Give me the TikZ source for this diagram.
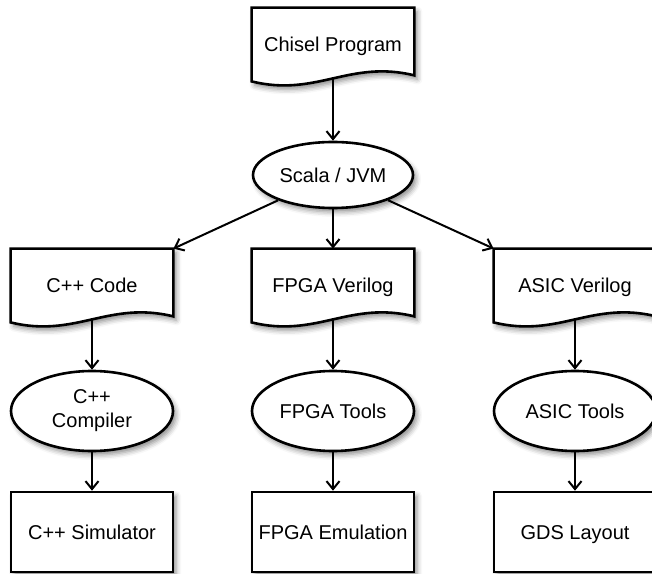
\documentclass[tikz,border=0pt]{standalone}
\usepackage{fontspec}
\setmainfont{Liberation Sans}
\usetikzlibrary{arrows.meta, shapes.geometric, positioning, calc, backgrounds, shadows.blur}

\tikzset{
  softshadow/.style={blur shadow={shadow xshift=1.5pt, shadow yshift=-2pt, shadow blur radius=2.5pt, shadow opacity=45}},
  doc/.style={minimum width=81pt, minimum height=35pt, inner sep=0pt, text height=10.5pt, text depth=1.5pt},
  docline/.style={draw, line width=1.3pt, fill=white, softshadow},
  stage/.style={ellipse, draw, line width=1.3pt, fill=white, softshadow, minimum width=81pt, minimum height=40pt, inner sep=0pt, align=center},
  result/.style={rectangle, draw, line width=1.3pt, fill=white, softshadow, minimum width=81pt, minimum height=40pt, inner sep=0pt, text height=8pt, text depth=1pt},
  flow/.style={-{Straight Barb[length=4pt,width=6.5pt]}, line width=1pt},
}

% sheet with a wavy lower edge round a doc node
\newcommand{\docoutline}[1]{%
  \draw[docline] (#1.north west) -- (#1.north east) -- ($(#1.south east)+(0,3)$)
    .. controls +(-65,16) and +(65,-16) .. ($(#1.south west)+(0,-3)$) -- cycle;}

\begin{document}
\begin{tikzpicture}[x=0.5pt, y=0.5pt, font=\fontsize{10}{12}\selectfont]
\useasboundingbox (0,0) rectangle (652,573);

% Source
\node[doc] (chisel) at (333,530) {Chisel Program};
\node[stage, minimum width=80pt, minimum height=33pt] (scala) at (333,398) {Scala / JVM};

% Generated code
\node[doc] (cppcode) at (92,289) {C++ Code};
\node[doc] (fpgav) at (333,289) {FPGA Verilog};
\node[doc] (asicv) at (575,289) {ASIC Verilog};

% Tools
\node[stage] (cppcomp) at (92,162) {C++\\Compiler};
\node[stage] (fpgatools) at (333,162) {FPGA Tools};
\node[stage] (asictools) at (575,162) {ASIC Tools};

% Targets
\node[result] (cppsim) at (92,41) {C++ Simulator};
\node[result] (fpgaemu) at (333,41) {FPGA Emulation};
\node[result] (gds) at (575,41) {GDS Layout};

\begin{scope}[on background layer]
  \docoutline{chisel}
  \docoutline{cppcode}
  \docoutline{fpgav}
  \docoutline{asicv}
\end{scope}

% Arrows
\draw[flow] (chisel.south) -- (scala);
\draw[flow] (scala) -- (cppcode.north east);
\draw[flow] (scala) -- (fpgav);
\draw[flow] (scala) -- (asicv.north west);
\draw[flow] (cppcode.south) -- (cppcomp);
\draw[flow] (fpgav.south) -- (fpgatools);
\draw[flow] (asicv.south) -- (asictools);
\draw[flow] (cppcomp) -- (cppsim);
\draw[flow] (fpgatools) -- (fpgaemu);
\draw[flow] (asictools) -- (gds);
\end{tikzpicture}
\end{document}
